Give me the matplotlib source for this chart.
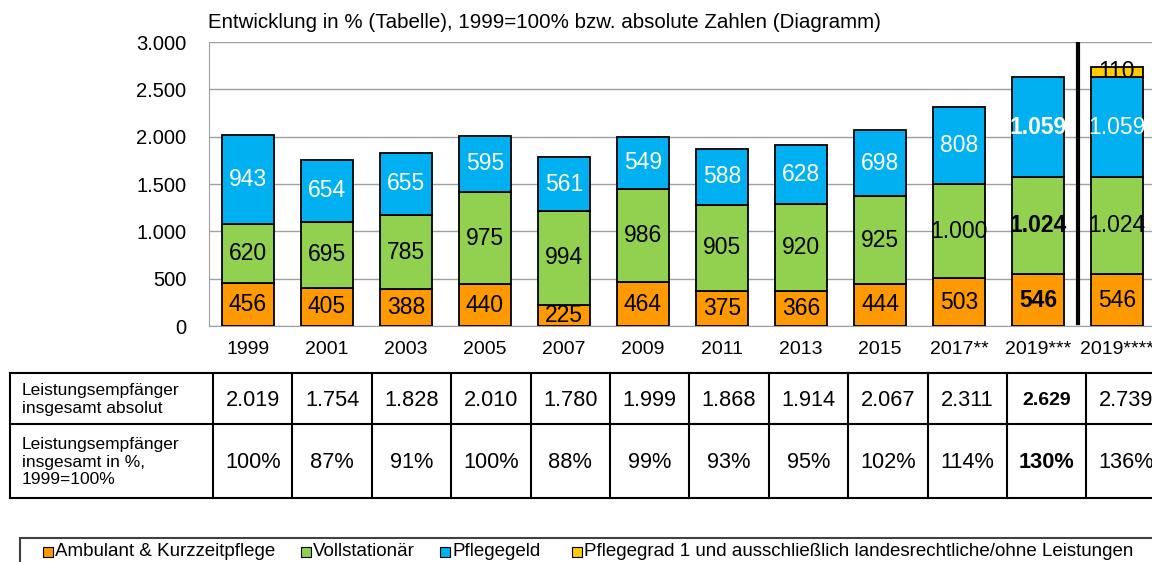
import matplotlib.pyplot as plt
import matplotlib.patches as mpatches
from matplotlib.lines import Line2D
import numpy as np

plt.rcParams['font.family'] = ['Liberation Sans', 'DejaVu Sans']

years = ['1999', '2001', '2003', '2005', '2007', '2009', '2011', '2013', '2015',
         '2017**', '2019***', '2019****']
ambulant = [456, 405, 388, 440, 225, 464, 375, 366, 444, 503, 546, 546]
vollstationaer = [620, 695, 785, 975, 994, 986, 905, 920, 925, 1000, 1024, 1024]
pflegegeld = [943, 654, 655, 595, 561, 549, 588, 628, 698, 808, 1059, 1059]
pflegegrad1 = [0, 0, 0, 0, 0, 0, 0, 0, 0, 0, 0, 110]
totals = [2019, 1754, 1828, 2010, 1780, 1999, 1868, 1914, 2067, 2311, 2629, 2739]
percent = [100, 87, 91, 100, 88, 99, 93, 95, 102, 114, 130, 136]
bold_col = 10

legend_labels = ['Ambulant & Kurzzeitpflege', 'Vollstationär', 'Pflegegeld',
                 'Pflegegrad 1 und ausschließlich landesrechtliche/ohne Leistungen']
colors = ['#FF9900', '#92D050', '#00B0F0', '#FFCC00']


def de(n):
    return f'{n:,}'.replace(',', '.')


W, H = 1152, 562
fig = plt.figure(figsize=(W / 100, H / 100), dpi=100)

# axes in pixel coordinates
x0, x1 = 208.5, 1156.5
y_zero, y_top = 326, 42
ax = fig.add_axes([x0 / W, (H - y_zero) / H, (x1 - x0) / W, (y_zero - y_top) / H])

x = np.arange(len(years))
width = 0.67
series = [ambulant, vollstationaer, pflegegeld, pflegegrad1]
bottom = np.zeros(len(years))
for i, vals in enumerate(series):
    vals = np.array(vals)
    mask = vals > 0
    ax.bar(x[mask], vals[mask], width, bottom=bottom[mask], color=colors[i],
           edgecolor='black', linewidth=1.3, zorder=3)
    for j in np.where(mask)[0]:
        txtcol = 'white' if i == 2 else 'black'
        weight = 'bold' if (j == bold_col and i < 3) else 'normal'
        ax.text(x[j], bottom[j] + vals[j] / 2, de(int(vals[j])), ha='center', va='center',
                fontsize=16.5, color=txtcol, fontweight=weight, zorder=4)
    bottom = bottom + vals

ax.set_xlim(-0.5, len(years) - 0.5)
ax.set_ylim(0, 3000)
ax.set_yticks(np.arange(0, 3001, 500))
ax.set_yticklabels([de(v) for v in range(0, 3001, 500)], fontsize=14.5)
ax.set_xticks(x)
ax.set_xticklabels(years, fontsize=14)
ax.tick_params(length=0, pad=16)
ax.tick_params(axis='x', pad=11)
ax.grid(axis='y', color='#A0A0A0', linewidth=1, zorder=0)
for s in ['top', 'right']:
    ax.spines[s].set_visible(False)
ax.spines['left'].set_color('#A0A0A0')
ax.spines['bottom'].set_color('#A0A0A0')
ax.axvline(10.5, ymin=0.01, ymax=1.0, color='black', linewidth=3, zorder=5)

fig.text(208 / W, 1 - 22 / H, 'Entwicklung in % (Tabelle), 1999=100% bzw. absolute Zahlen (Diagramm)',
         fontsize=14.8, ha='left', va='center')

# table below the chart
t_left, t_first, t_step = 10, 213, 79.4
rows_y = [373, 424, 498]
t_right = t_first + t_step * len(years)


def fx(px):
    return px / W


def fy(py):
    return 1 - py / H


for yy in rows_y:
    fig.add_artist(Line2D([fx(t_left), fx(t_right)], [fy(yy), fy(yy)], color='black', lw=1.5))
for k in range(len(years) + 1):
    xx = t_first + k * t_step
    fig.add_artist(Line2D([fx(xx), fx(xx)], [fy(rows_y[0]), fy(rows_y[-1])], color='black', lw=1.5))
fig.add_artist(Line2D([fx(t_left), fx(t_left)], [fy(rows_y[0]), fy(rows_y[-1])], color='black', lw=1.5))

fig.text(fx(22), fy((rows_y[0] + rows_y[1]) / 2 + 1), 'Leistungsempfänger\ninsgesamt absolut',
         fontsize=12.5, ha='left', va='center', linespacing=1.18)
fig.text(fx(22), fy((rows_y[1] + rows_y[2]) / 2 + 1), 'Leistungsempfänger\ninsgesamt in %,\n1999=100%',
         fontsize=12.5, ha='left', va='center', linespacing=1.18)
for k in range(len(years)):
    cx = t_first + (k + 0.5) * t_step
    w = 'bold' if k == bold_col else 'normal'
    fig.text(fx(cx), fy((rows_y[0] + rows_y[1]) / 2 + 2), de(totals[k]),
             fontsize=14 if k == bold_col else 15.7, ha='center', va='center', fontweight=w)
    fig.text(fx(cx), fy((rows_y[1] + rows_y[2]) / 2 + 2), f'{percent[k]}%',
             fontsize=15.7, ha='center', va='center', fontweight=w)

# legend box
fig.add_artist(mpatches.Rectangle((fx(20), fy(570)), fx(1200) - fx(20), fy(538) - fy(570),
                                  transform=fig.transFigure, fill=False, edgecolor='#404040', lw=1.5))
leg_x = [43, 301, 440, 572]
for i, lab in enumerate(legend_labels):
    fig.add_artist(mpatches.Rectangle((fx(leg_x[i]), fy(557)), fx(10), fy(547) - fy(557),
                                      transform=fig.transFigure, facecolor=colors[i],
                                      edgecolor='black', lw=0.8))
    fig.text(fx(leg_x[i] + 12), fy(552), lab, fontsize=13.5, ha='left', va='center')

fig.savefig('out.png', dpi=100)
